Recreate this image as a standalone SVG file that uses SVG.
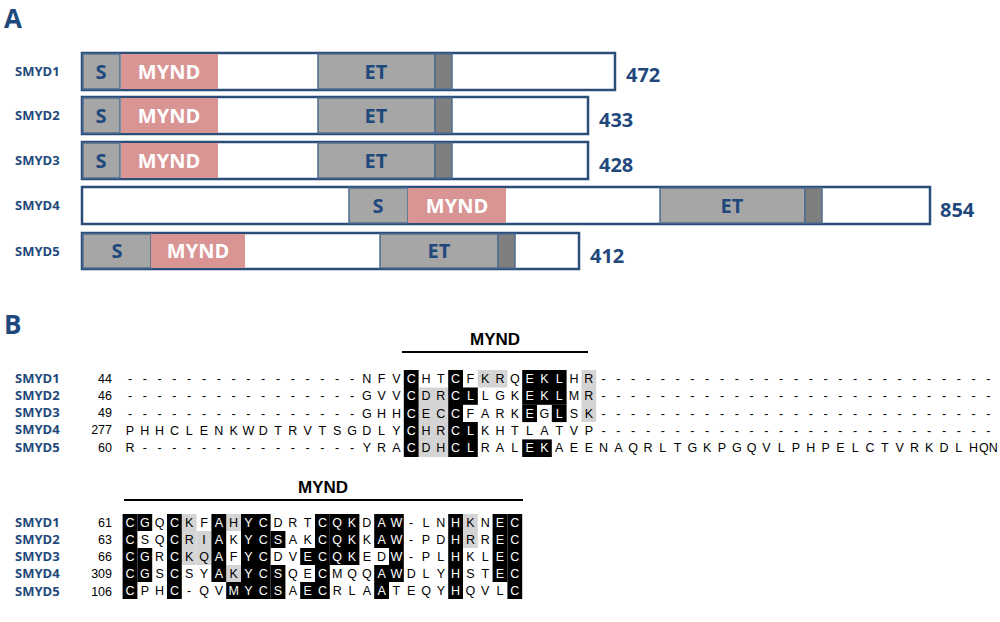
<svg xmlns="http://www.w3.org/2000/svg" width="1000" height="622" viewBox="0 0 1000 622">
<style>
.bar{fill:#fff;stroke:#2a4d7a;stroke-width:2.5}
.s{fill:#a6a6a6;stroke:#4f6d91;stroke-width:1.5}
.m{fill:#d99594}
.d{fill:#7f7f7f;stroke:#4f6d91;stroke-width:1.5}
.dl{font-family:"Open Sans","Liberation Sans",sans-serif;font-weight:bold;font-size:20px;fill:#1f497d;text-anchor:middle}
.ml{font-family:"Open Sans","Liberation Sans",sans-serif;font-weight:bold;font-size:20px;fill:#fff;text-anchor:middle}
.num{font-family:"Open Sans","Liberation Sans",sans-serif;font-weight:bold;font-size:20px;fill:#1f497d}
.lab{font-family:"Open Sans","Liberation Sans",sans-serif;font-weight:bold;font-size:13px;fill:#1f497d}
.pl{font-family:"Open Sans","Liberation Sans",sans-serif;font-weight:bold;font-size:26px;fill:#1f497d}
.seq{font-family:"Liberation Sans",Arial,sans-serif;font-size:12.5px;fill:#000;text-anchor:middle}
.idx{font-family:"Liberation Sans",Arial,sans-serif;font-size:12.5px;fill:#000;text-anchor:end}
.w{fill:#fff}
.k{fill:#000}
.g{fill:#d4d4d4}
.hd{font-family:"Liberation Sans",Arial,sans-serif;font-weight:bold;font-size:17px;fill:#000;text-anchor:middle}
</style>
<text class="pl" x="4" y="28">A</text>
<text class="pl" x="4" y="334">B</text>
<g id="smyd1"><text class="lab" x="15" y="76">SMYD1</text><rect class="bar" x="82" y="53" width="533" height="37"/><rect class="s" x="83" y="54" width="37" height="35"/><rect class="m" x="121" y="54" width="97" height="35"/><rect class="s" x="318" y="54" width="117" height="35"/><rect class="d" x="435" y="54" width="17" height="35"/><text class="dl" x="101" y="79">S</text><text class="ml" x="169" y="79">MYND</text><text class="dl" x="376" y="79">ET</text><text class="num" x="626" y="82">472</text></g>
<g id="smyd2"><text class="lab" x="15" y="120">SMYD2</text><rect class="bar" x="82" y="97" width="506" height="37"/><rect class="s" x="83" y="98" width="37" height="35"/><rect class="m" x="121" y="98" width="97" height="35"/><rect class="s" x="318" y="98" width="117" height="35"/><rect class="d" x="435" y="98" width="17" height="35"/><text class="dl" x="101" y="123">S</text><text class="ml" x="169" y="123">MYND</text><text class="dl" x="376" y="123">ET</text><text class="num" x="599" y="127">433</text></g>
<g id="smyd3"><text class="lab" x="15" y="165">SMYD3</text><rect class="bar" x="82" y="142" width="506" height="37"/><rect class="s" x="83" y="143" width="37" height="35"/><rect class="m" x="121" y="143" width="97" height="35"/><rect class="s" x="318" y="143" width="117" height="35"/><rect class="d" x="435" y="143" width="17" height="35"/><text class="dl" x="101" y="168">S</text><text class="ml" x="169" y="168">MYND</text><text class="dl" x="376" y="168">ET</text><text class="num" x="599" y="172">428</text></g>
<g id="smyd4"><text class="lab" x="15" y="210">SMYD4</text><rect class="bar" x="82" y="187" width="848" height="37"/><rect class="s" x="349" y="188" width="59" height="35"/><rect class="m" x="408" y="188" width="98" height="35"/><rect class="s" x="660" y="188" width="145" height="35"/><rect class="d" x="805" y="188" width="17" height="35"/><text class="dl" x="378" y="213">S</text><text class="ml" x="457" y="213">MYND</text><text class="dl" x="732" y="213">ET</text><text class="num" x="940" y="217">854</text></g>
<g id="smyd5"><text class="lab" x="15" y="256">SMYD5</text><rect class="bar" x="82" y="233" width="497" height="36"/><rect class="s" x="83" y="234" width="68" height="34"/><rect class="m" x="151" y="234" width="94" height="34"/><rect class="s" x="380" y="234" width="118" height="34"/><rect class="d" x="498" y="234" width="17" height="34"/><text class="dl" x="117" y="258">S</text><text class="ml" x="198" y="258">MYND</text><text class="dl" x="439" y="258">ET</text><text class="num" x="590" y="263">412</text></g>

<g id="align1">
<text class="hd" x="495" y="345">MYND</text>
<line x1="402" y1="352" x2="588" y2="352" stroke="#000" stroke-width="2"/>
<g class="labels">
<text class="lab" x="15" y="383">SMYD1</text><text class="lab" x="15" y="400">SMYD2</text><text class="lab" x="15" y="417">SMYD3</text><text class="lab" x="15" y="434">SMYD4</text><text class="lab" x="15" y="452">SMYD5</text>
<text class="idx" x="112" y="383">44</text><text class="idx" x="112" y="400">46</text><text class="idx" x="112" y="417">49</text><text class="idx" x="112" y="434">277</text><text class="idx" x="112" y="452">60</text>
</g>
<g class="g">
<rect x="477.8" y="370" width="29.6" height="17.5"/><rect x="581.4" y="370" width="14.8" height="52"/>
<rect x="418.6" y="387.5" width="29.6" height="69.5"/>
</g>
<g class="k">
<rect x="403.8" y="370" width="14.8" height="87"/><rect x="448.2" y="370" width="14.8" height="87"/>
<rect x="463" y="387.5" width="14.8" height="17.3"/><rect x="463" y="422" width="14.8" height="35"/>
<rect x="522.2" y="370" width="44.4" height="34.8"/><rect x="522.2" y="404.8" width="14.8" height="17.3"/><rect x="551.8" y="404.8" width="14.8" height="17.3"/>
<rect x="522.2" y="439.4" width="29.6" height="17.6"/>
</g>
<text class="seq" y="383" x="130 144.8 159.6 174.4 189.2 204 218.8 233.6 248.4 263.2 278 292.8 307.6 322.4 337.2 352 366.8 381.6 396.4 411.2 426 440.8 455.6 470.4 485.2 500 514.8 529.6 544.4 559.2 574 588.8 603.6 618.4 633.2 648 662.8 677.6 692.4 707.2 722 736.8 751.6 766.4 781.2 796 810.8 825.6 840.4 855.2 870 884.8 899.6 914.4 929.2 944 958.8 973.6 988.4">----------------NFV<tspan class="w">C</tspan>HT<tspan class="w">C</tspan>FKRQ<tspan class="w">EKL</tspan>HR---------------------------</text>
<text class="seq" y="400.3" x="130 144.8 159.6 174.4 189.2 204 218.8 233.6 248.4 263.2 278 292.8 307.6 322.4 337.2 352 366.8 381.6 396.4 411.2 426 440.8 455.6 470.4 485.2 500 514.8 529.6 544.4 559.2 574 588.8 603.6 618.4 633.2 648 662.8 677.6 692.4 707.2 722 736.8 751.6 766.4 781.2 796 810.8 825.6 840.4 855.2 870 884.8 899.6 914.4 929.2 944 958.8 973.6 988.4">----------------GVV<tspan class="w">C</tspan>DR<tspan class="w">CL</tspan>LGK<tspan class="w">EKL</tspan>MR---------------------------</text>
<text class="seq" y="417.6" x="130 144.8 159.6 174.4 189.2 204 218.8 233.6 248.4 263.2 278 292.8 307.6 322.4 337.2 352 366.8 381.6 396.4 411.2 426 440.8 455.6 470.4 485.2 500 514.8 529.6 544.4 559.2 574 588.8 603.6 618.4 633.2 648 662.8 677.6 692.4 707.2 722 736.8 751.6 766.4 781.2 796 810.8 825.6 840.4 855.2 870 884.8 899.6 914.4 929.2 944 958.8 973.6 988.4">----------------GHH<tspan class="w">C</tspan>EC<tspan class="w">C</tspan>FARK<tspan class="w">E</tspan>G<tspan class="w">L</tspan>SK---------------------------</text>
<text class="seq" y="434.9" x="130 144.8 159.6 174.4 189.2 204 218.8 233.6 248.4 263.2 278 292.8 307.6 322.4 337.2 352 366.8 381.6 396.4 411.2 426 440.8 455.6 470.4 485.2 500 514.8 529.6 544.4 559.2 574 588.8 603.6 618.4 633.2 648 662.8 677.6 692.4 707.2 722 736.8 751.6 766.4 781.2 796 810.8 825.6 840.4 855.2 870 884.8 899.6 914.4 929.2 944 958.8 973.6 988.4">PHHCLENKWDTRVTSGDLY<tspan class="w">C</tspan>HR<tspan class="w">CL</tspan>KHTLATVP---------------------------</text>
<text class="seq" y="452.2" x="130 144.8 159.6 174.4 189.2 204 218.8 233.6 248.4 263.2 278 292.8 307.6 322.4 337.2 352 366.8 381.6 396.4 411.2 426 440.8 455.6 470.4 485.2 500 514.8 529.6 544.4 559.2 574 588.8 603.6 618.4 633.2 648 662.8 677.6 692.4 707.2 722 736.8 751.6 766.4 781.2 796 810.8 825.6 840.4 855.2 870 884.8 899.6 914.4 929.2 944 958.8 973.6 988.4">R---------------YRA<tspan class="w">C</tspan>DH<tspan class="w">CL</tspan>RAL<tspan class="w">EK</tspan>AEENAQRLTGKPGQVLPHPELCTVRKDLHQN</text>
</g>

<g id="align2">
<text class="hd" x="323" y="493">MYND</text>
<line x1="124" y1="500" x2="523" y2="500" stroke="#000" stroke-width="2"/>
<g class="labels">
<text class="lab" x="15" y="527">SMYD1</text><text class="lab" x="15" y="544">SMYD2</text><text class="lab" x="15" y="561">SMYD3</text><text class="lab" x="15" y="578">SMYD4</text><text class="lab" x="15" y="596">SMYD5</text>
<text class="idx" x="112" y="527">61</text><text class="idx" x="112" y="544">63</text><text class="idx" x="112" y="561">66</text><text class="idx" x="112" y="578">309</text><text class="idx" x="112" y="596">106</text>
</g>
<g class="g">
<rect x="181.8" y="514" width="14.8" height="51"/><rect x="196.6" y="531" width="14.8" height="34"/><rect x="226.2" y="514" width="14.8" height="17"/><rect x="226.2" y="565" width="14.8" height="17"/><rect x="463" y="514" width="14.8" height="34"/>
</g>
<g class="k">
<rect x="122.6" y="514" width="14.8" height="85"/><rect x="137.4" y="514" width="14.8" height="17"/><rect x="137.4" y="548" width="14.8" height="34"/>
<rect x="167" y="514" width="14.8" height="85"/>
<rect x="211.4" y="514" width="14.8" height="68"/><rect x="226.2" y="582" width="14.8" height="17"/>
<rect x="241" y="514" width="29.6" height="85"/>
<rect x="270.6" y="531" width="14.8" height="17"/><rect x="270.6" y="565" width="14.8" height="34"/>
<rect x="300.2" y="548" width="14.8" height="17"/><rect x="300.2" y="582" width="14.8" height="17"/>
<rect x="315" y="514" width="14.8" height="85"/>
<rect x="329.8" y="514" width="29.6" height="51"/>
<rect x="374.2" y="514" width="14.8" height="34"/><rect x="374.2" y="565" width="14.8" height="34"/>
<rect x="389" y="514" width="14.8" height="68"/>
<rect x="448.2" y="514" width="14.8" height="85"/>
<rect x="492.6" y="514" width="14.8" height="68"/><rect x="507.4" y="514" width="14.8" height="85"/>
</g>
<text class="seq" y="527" x="130 144.8 159.6 174.4 189.2 204 218.8 233.6 248.4 263.2 278 292.8 307.6 322.4 337.2 352 366.8 381.6 396.4 411.2 426 440.8 455.6 470.4 485.2 500 514.8"><tspan class="w">CG</tspan>Q<tspan class="w">C</tspan>KF<tspan class="w">A</tspan>H<tspan class="w">YC</tspan>DRT<tspan class="w">CQK</tspan>D<tspan class="w">AW</tspan>-LN<tspan class="w">H</tspan>KN<tspan class="w">EC</tspan></text>
<text class="seq" y="544" x="130 144.8 159.6 174.4 189.2 204 218.8 233.6 248.4 263.2 278 292.8 307.6 322.4 337.2 352 366.8 381.6 396.4 411.2 426 440.8 455.6 470.4 485.2 500 514.8"><tspan class="w">C</tspan>SQ<tspan class="w">C</tspan>RI<tspan class="w">A</tspan>K<tspan class="w">YCS</tspan>AK<tspan class="w">CQK</tspan>K<tspan class="w">AW</tspan>-PD<tspan class="w">H</tspan>RR<tspan class="w">EC</tspan></text>
<text class="seq" y="561" x="130 144.8 159.6 174.4 189.2 204 218.8 233.6 248.4 263.2 278 292.8 307.6 322.4 337.2 352 366.8 381.6 396.4 411.2 426 440.8 455.6 470.4 485.2 500 514.8"><tspan class="w">CG</tspan>R<tspan class="w">C</tspan>KQ<tspan class="w">A</tspan>F<tspan class="w">YC</tspan>DV<tspan class="w">ECQK</tspan>ED<tspan class="w">W</tspan>-PL<tspan class="w">H</tspan>KL<tspan class="w">EC</tspan></text>
<text class="seq" y="578" x="130 144.8 159.6 174.4 189.2 204 218.8 233.6 248.4 263.2 278 292.8 307.6 322.4 337.2 352 366.8 381.6 396.4 411.2 426 440.8 455.6 470.4 485.2 500 514.8"><tspan class="w">CG</tspan>S<tspan class="w">C</tspan>SY<tspan class="w">A</tspan>K<tspan class="w">YCS</tspan>QE<tspan class="w">C</tspan>MQQ<tspan class="w">AW</tspan>DLY<tspan class="w">H</tspan>ST<tspan class="w">EC</tspan></text>
<text class="seq" y="595" x="130 144.8 159.6 174.4 189.2 204 218.8 233.6 248.4 263.2 278 292.8 307.6 322.4 337.2 352 366.8 381.6 396.4 411.2 426 440.8 455.6 470.4 485.2 500 514.8"><tspan class="w">C</tspan>PH<tspan class="w">C</tspan>-QV<tspan class="w">MYCS</tspan>A<tspan class="w">EC</tspan>RLA<tspan class="w">A</tspan>TEQY<tspan class="w">H</tspan>QVL<tspan class="w">C</tspan></text>
</g>
</svg>
